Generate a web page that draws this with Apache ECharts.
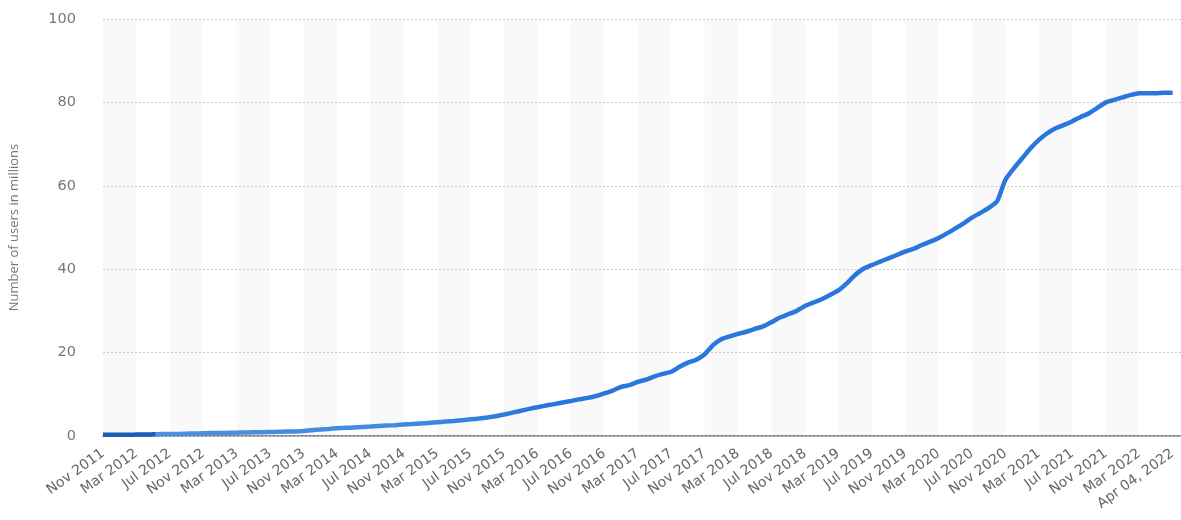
<!DOCTYPE html>
<html>
<head>
<meta charset="utf-8">
<script src="https://cdn.jsdelivr.net/npm/echarts@6/dist/echarts.min.js"></script>
<style>
    html, body { margin: 0; padding: 0; background: #fff; }
    #users_graph { width: 1181px; height: 520px; }
</style>
</head>
<body>
<div id="users_graph"></div>
<script>
var usersGraph = echarts.init(document.getElementById('users_graph'));

const months = [
    'Nov 2011', 'Dec 2011',
    'Jan 2012', 'Feb 2012', 'Mar 2012', 'Apr 2012', 'May 2012', 'Jun 2012', 'Jul 2012', 'Aug 2012', 'Sep 2012', 'Oct 2012', 'Nov 2012', 'Dec 2012',
    'Jan 2013', 'Feb 2013', 'Mar 2013', 'Apr 2013', 'May 2013', 'Jun 2013', 'Jul 2013', 'Aug 2013', 'Sep 2013', 'Oct 2013', 'Nov 2013', 'Dec 2013',
    'Jan 2014', 'Feb 2014', 'Mar 2014', 'Apr 2014', 'May 2014', 'Jun 2014', 'Jul 2014', 'Aug 2014', 'Sep 2014', 'Oct 2014', 'Nov 2014', 'Dec 2014',
    'Jan 2015', 'Feb 2015', 'Mar 2015', 'Apr 2015', 'May 2015', 'Jun 2015', 'Jul 2015', 'Aug 2015', 'Sep 2015', 'Oct 2015', 'Nov 2015', 'Dec 2015',
    'Jan 2016', 'Feb 2016', 'Mar 2016', 'Apr 2016', 'May 2016', 'Jun 2016', 'Jul 2016', 'Aug 2016', 'Sep 2016', 'Oct 2016', 'Nov 2016', 'Dec 2016',
    'Jan 2017', 'Feb 2017', 'Mar 2017', 'Apr 2017', 'May 2017', 'Jun 2017', 'Jul 2017', 'Aug 2017', 'Sep 2017', 'Oct 2017', 'Nov 2017', 'Dec 2017',
    'Jan 2018', 'Feb 2018', 'Mar 2018', 'Apr 2018', 'May 2018', 'Jun 2018', 'Jul 2018', 'Aug 2018', 'Sep 2018', 'Oct 2018', 'Nov 2018', 'Dec 2018',
    'Jan 2019', 'Feb 2019', 'Mar 2019', 'Apr 2019', 'May 2019', 'Jun 2019', 'Jul 2019', 'Aug 2019', 'Sep 2019', 'Oct 2019', 'Nov 2019', 'Dec 2019',
    'Jan 2020', 'Feb 2020', 'Mar 2020', 'Apr 2020', 'May 2020', 'Jun 2020', 'Jul 2020', 'Aug 2020', 'Sep 2020', 'Oct 2020', 'Nov 2020', 'Dec 2020',
    'Jan 2021', 'Feb 2021', 'Mar 2021', 'Apr 2021', 'May 2021', 'Jun 2021', 'Jul 2021', 'Aug 2021', 'Sep 2021', 'Oct 2021', 'Nov 2021', 'Dec 2021',
    'Jan 2022', 'Feb 2022', 'Mar 2022',
    'Mar 14, 2022', 'Mar 21, 2022', 'Mar 28, 2022', 'Apr 04, 2022'
];

// users in millions
const users = [
    0.3, 0.3, 0.3, 0.3, 0.35, 0.35, 0.4, 0.45, 0.5, 0.5, 0.55, 0.6, 0.65, 0.7, 0.7, 0.75, 0.8, 0.85, 0.9, 0.9, 0.95, 1.0, 1.05, 1.1,
    1.2, 1.4, 1.55, 1.7, 1.85, 1.95, 2.05, 2.15, 2.25, 2.4, 2.5, 2.6, 2.75, 2.85, 3.0, 3.1, 3.3, 3.45, 3.6, 3.8, 4.0, 4.2, 4.45, 4.75,
    5.15, 5.6, 6.05, 6.5, 6.9, 7.3, 7.65, 8.05, 8.4, 8.8, 9.15, 9.6, 10.2, 10.9, 11.8, 12.2, 13.0, 13.5, 14.3, 14.9, 15.4, 16.6, 17.6, 18.3,
    19.6, 21.8, 23.2, 23.9, 24.5, 25.0, 25.7, 26.3, 27.3, 28.4, 29.2, 30.0, 31.2, 32.0, 32.8, 33.8, 34.9, 36.6, 38.6, 40.1, 41.0, 41.8, 42.6, 43.4,
    44.2, 44.9, 45.8, 46.6, 47.5, 48.6, 49.8, 51.0, 52.4, 53.5, 54.7, 56.3, 61.5, 64.2, 66.6, 69.0, 71.0, 72.6, 73.8, 74.6, 75.5, 76.5, 77.4, 78.7,
    80.0, 80.6, 81.2, 81.8, 82.2, 82.2, 82.2, 82.3, 82.3
];

const yTicks = [0, 20, 40, 60, 80, 100];

usersGraph.setOption({
    animation: false,
    grid: {
        left: 100,
        right: 0,
        top: 19,
        bottom: 84,
    },
    xAxis: {
        type: 'category',
        data: months,
        boundaryGap: false,
        max: 129,
        z: 0,
        axisLine: {
            lineStyle: {
                color: '#6b6b6b',
                width: 1.5,
            },
        },
        axisTick: {
            show: false,
        },
        axisLabel: {
            interval: function (index) {
                return index % 4 === 0;
            },
            rotate: 36,
            margin: 16,
            color: '#666',
            fontFamily: 'DejaVu Sans',
            fontSize: 14,
        },
        splitArea: {
            show: true,
            areaStyle: {
                color: ['#f9f9f9', 'rgba(255,255,255,0)'],
            },
        },
    },
    yAxis: {
        type: 'value',
        min: yTicks[0],
        max: yTicks[yTicks.length - 1],
        interval: 20,
        z: 1,
        name: 'Number of users in millions',
        nameLocation: 'middle',
        nameGap: 82,
        nameTextStyle: {
            color: '#777',
            fontFamily: 'Open Sans',
            fontSize: 13,
        },
        axisLine: {
            show: false,
        },
        axisTick: {
            show: false,
        },
        axisLabel: {
            margin: 27,
            color: '#777',
            fontFamily: 'DejaVu Sans',
            fontSize: 14.5,
        },
        splitLine: {
            lineStyle: {
                color: '#cccccc',
                type: [2, 2],
            },
        },
    },
    series: {
        name: 'users',
        type: 'line',
        data: users,
        showSymbol: false,
        smooth: 0.2,
        z: 3,
        lineStyle: {
            width: 4.5,
            color: {
                type: 'linear',
                x: 0, y: 0, x2: 1, y2: 0,
                colorStops: [
                    { offset: 0, color: '#1a5cb8' },
                    { offset: 0.05, color: '#1a5cb8' },
                    { offset: 0.052, color: '#4d90e2' },
                    { offset: 0.3, color: '#3f88e0' },
                    { offset: 0.4, color: '#2977dd' },
                    { offset: 1, color: '#2977dd' },
                ],
            },
        },
    },
});

window.addEventListener('resize', function () {
    usersGraph.resize();
});
</script>
</body>
</html>
